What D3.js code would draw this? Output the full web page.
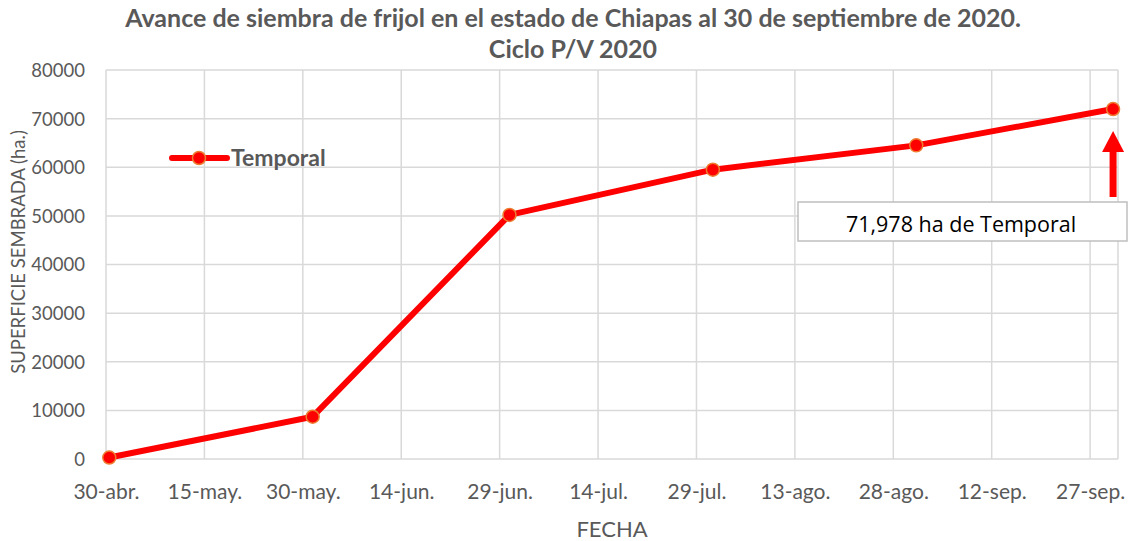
<!DOCTYPE html>
<html>
<head>
<meta charset="utf-8">
<script src="https://cdn.jsdelivr.net/npm/d3@7"></script>
<style>
  body { margin: 0; background: #fff; }
  text { font-family: Lato, "Open Sans", sans-serif; fill: #595959; }
</style>
</head>
<body>
<div id="chart"></div>
<script>
// data
var fechas = ["2020-04-30", "2020-05-31", "2020-06-30", "2020-07-31", "2020-08-31", "2020-09-30"];
var temporal = [300, 8700, 50200, 59500, 64500, 71978];
var yTicks = [0, 10000, 20000, 30000, 40000, 50000, 60000, 70000, 80000];
var xTickLabels = ["30-abr.", "15-may.", "30-may.", "14-jun.", "29-jun.", "14-jul.", "29-jul.", "13-ago.", "28-ago.", "12-sep.", "27-sep."];

var svgWidth = 1139;
var svgHeight = 541;

var margin = {
  top: 70,
  right: 21,
  bottom: 82,
  left: 106
};

var width = svgWidth - margin.left - margin.right;
var height = svgHeight - margin.top - margin.bottom;

var parseDate = d3.timeParse("%Y-%m-%d");

var data = fechas.map(function(f, i) {
  return { fecha: parseDate(f), valor: temporal[i] };
});

var svg = d3.select("#chart")
  .append("svg")
  .attr("width", svgWidth)
  .attr("height", svgHeight);

var chartGroup = svg.append("g")
  .attr("transform", `translate(${margin.left}, ${margin.top})`);

var start = parseDate("2020-04-30");
var xScale = d3.scaleTime()
  .domain([start, d3.timeHour.offset(parseDate("2020-10-01"), 6)])
  .range([0, width]);

var yScale = d3.scaleLinear()
  .domain([0, 80000])
  .range([height, 0]);

// tick every 15 days starting 30-abr.
var xTicks = xTickLabels.map(function(l, i) { return d3.timeDay.offset(start, i * 15); });

// grid
chartGroup.append("g")
  .selectAll("line.h")
  .data(yTicks)
  .enter()
  .append("line")
  .attr("x1", 0)
  .attr("x2", width)
  .attr("y1", d => yScale(d))
  .attr("y2", d => yScale(d))
  .attr("stroke", "#d9d9d9")
  .attr("stroke-width", 1.5);

chartGroup.append("g")
  .selectAll("line.v")
  .data(xTicks.concat([xScale.domain()[1]]))
  .enter()
  .append("line")
  .attr("x1", d => xScale(d))
  .attr("x2", d => xScale(d))
  .attr("y1", 0)
  .attr("y2", height)
  .attr("stroke", "#d9d9d9")
  .attr("stroke-width", 1.5);

// axes
var bottomAxis = d3.axisBottom(xScale)
  .tickValues(xTicks)
  .tickSize(0)
  .tickPadding(25)
  .tickFormat((d, i) => xTickLabels[i]);

var xAxis = chartGroup.append("g")
  .attr("transform", `translate(0, ${height})`)
  .call(bottomAxis);

var leftAxis = d3.axisLeft(yScale)
  .tickValues(yTicks)
  .tickSize(0)
  .tickPadding(21)
  .tickFormat(d3.format("d"));

var yAxis = chartGroup.append("g")
  .call(leftAxis);

[xAxis, yAxis].forEach(function(a) {
  a.select(".domain").remove();
  a.selectAll("text")
    .style("font-family", "Lato, sans-serif")
    .attr("fill", "#595959");
});
xAxis.selectAll("text").style("font-size", "21px");
yAxis.selectAll("text").style("font-size", "18.5px").attr("dy", "0.35em");

// line
var line = d3.line()
  .x(d => xScale(d3.timeHour.offset(d.fecha, 12)))
  .y(d => yScale(d.valor));

chartGroup.append("path")
  .datum(data)
  .attr("d", line)
  .attr("fill", "none")
  .attr("stroke", "#ff0000")
  .attr("stroke-width", 6)
  .attr("stroke-linejoin", "round");

chartGroup.selectAll("circle")
  .data(data)
  .enter()
  .append("circle")
  .attr("cx", d => xScale(d3.timeHour.offset(d.fecha, 12)))
  .attr("cy", d => yScale(d.valor))
  .attr("r", 6.5)
  .attr("fill", "#ff0000")
  .attr("stroke", "#ed7d31")
  .attr("stroke-width", 1.5);

// legend
var legend = svg.append("g")
  .attr("transform", "translate(172, 158)");

legend.append("line")
  .attr("x1", 0)
  .attr("x2", 55)
  .attr("stroke", "#ff0000")
  .attr("stroke-width", 6)
  .attr("stroke-linecap", "round");

legend.append("circle")
  .attr("cx", 27)
  .attr("r", 6.5)
  .attr("fill", "#ff0000")
  .attr("stroke", "#ed7d31")
  .attr("stroke-width", 1.5);

legend.append("text")
  .attr("x", 59)
  .attr("dy", "0.35em")
  .style("font-size", "23px")
  .style("font-weight", "bold")
  .text("Temporal");

// title
var title = svg.append("text")
  .attr("x", 573)
  .attr("text-anchor", "middle")
  .style("font-size", "25px")
  .style("font-weight", "bold");

title.append("tspan")
  .attr("x", 573)
  .attr("y", 27)
  .text("Avance de siembra de frijol en el estado de Chiapas al 30 de septiembre de 2020.");

title.append("tspan")
  .attr("x", 573)
  .attr("y", 58)
  .text("Ciclo P/V 2020");

// axis titles
svg.append("text")
  .attr("transform", "rotate(-90)")
  .attr("x", -252)
  .attr("y", 25)
  .attr("text-anchor", "middle")
  .style("font-size", "18.5px")
  .text("SUPERFICIE SEMBRADA (ha.)");

svg.append("text")
  .attr("x", 612)
  .attr("y", 537)
  .attr("text-anchor", "middle")
  .style("font-size", "22px")
  .text("FECHA");

// annotation: arrow and box for last value
var last = data[data.length - 1];
var ax = margin.left + xScale(d3.timeHour.offset(last.fecha, 12));
var ay = margin.top + yScale(last.valor);

svg.append("line")
  .attr("x1", ax)
  .attr("x2", ax)
  .attr("y1", ay + 88)
  .attr("y2", ay + 40)
  .attr("stroke", "#ff0000")
  .attr("stroke-width", 7);

svg.append("path")
  .attr("d", `M${ax - 11},${ay + 43} L${ax},${ay + 22} L${ax + 11},${ay + 43} Z`)
  .attr("fill", "#ff0000");

svg.append("rect")
  .attr("x", 798)
  .attr("y", 202)
  .attr("width", 329)
  .attr("height", 39)
  .attr("fill", "#fff")
  .attr("stroke", "#bfbfbf")
  .attr("stroke-width", 1.5);

svg.append("text")
  .attr("x", 961)
  .attr("y", 232)
  .attr("text-anchor", "middle")
  .style("font-family", "'Open Sans', sans-serif")
  .style("font-size", "21.5px")
  .style("fill", "#000")
  .text(d3.format(",")(last.valor) + " ha de Temporal");
</script>
</body>
</html>
